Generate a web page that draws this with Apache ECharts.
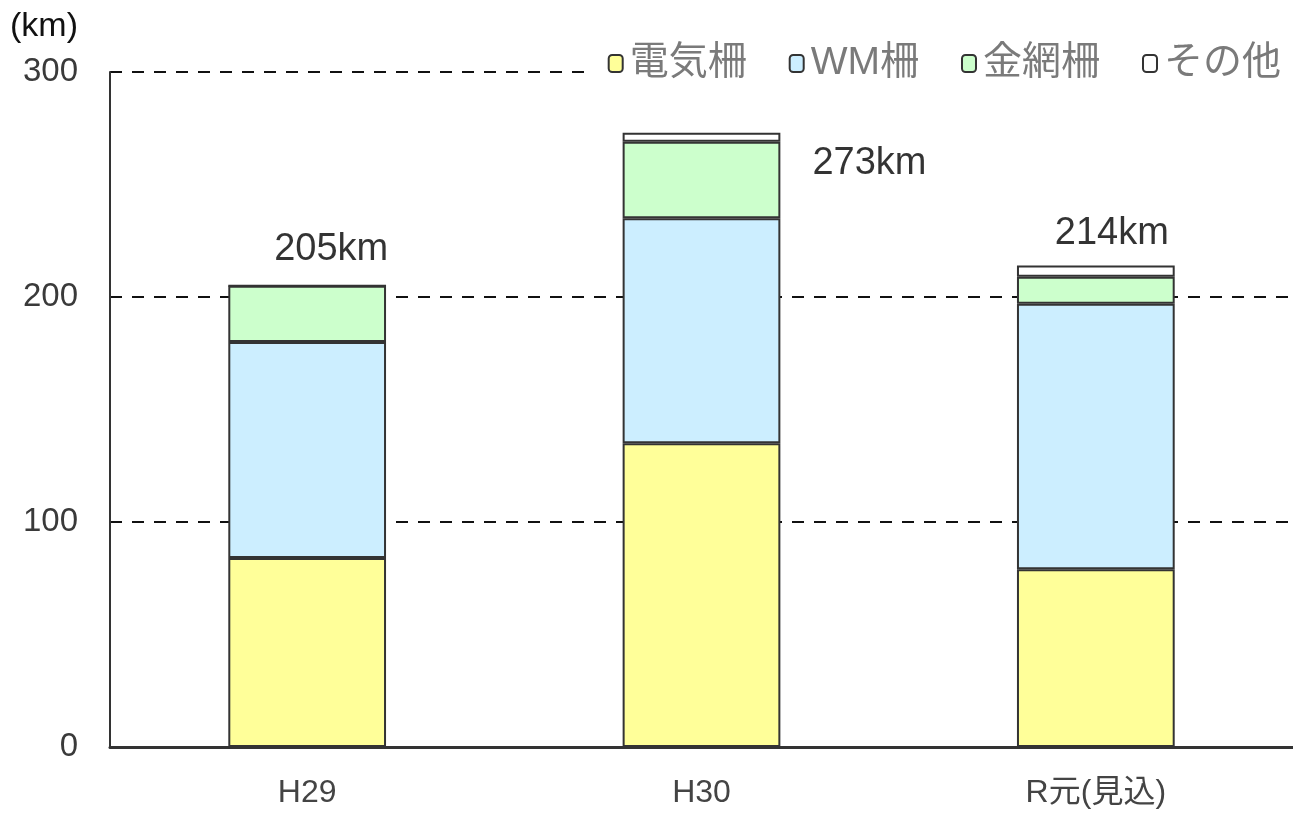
<!DOCTYPE html>
<html>
<head>
<meta charset="utf-8">
<script src="https://cdn.jsdelivr.net/npm/echarts@6/dist/echarts.min.js"></script>
<style>
  html, body { margin: 0; padding: 0; background: #fff; }
  #chart { width: 1293px; height: 819px; }
</style>
</head>
<body>
<div id="chart"></div>
<script>
// 年度
const categories = ['H29', 'H30', 'R元(見込)']
// 柵の種類ごとの延長 (km)
const denki = [84, 135, 79]
const wm = [96, 100, 118]
const kanaami = [25, 34, 12]
const sonota = [0, 4, 5]
// 合計ラベル
const totals = [205, 273, 214]
const yTicks = [0, 100, 200, 300]

const font = '"Liberation Sans", "Noto Sans CJK JP", sans-serif'
// 合計ラベルのずらし量
const labelOffsets = [[24, -16], [168, 51], [16, -12]]

const chart = echarts.init(document.getElementById('chart'))

function barSeries(name, data, color) {
  return {
    name: name,
    type: 'bar',
    stack: 'total',
    barWidth: '40%',
    data: data,
    itemStyle: { color: color, borderColor: '#333', borderWidth: 2 },
    emphasis: { disabled: true }
  }
}

chart.setOption({
  animation: false,
  grid: { left: 110, right: 0, top: 72, bottom: 72 },
  legend: {
    data: ['電気柵', 'WM柵', '金網柵', 'その他'],
    right: 0,
    top: 42,
    icon: 'roundRect',
    itemWidth: 14,
    itemHeight: 17,
    itemGap: 42,
    backgroundColor: '#fff',
    padding: [2, 12, 2, 14],
    itemStyle: { borderColor: '#333', borderWidth: 2 },
    textStyle: { fontSize: 39, color: '#7a7a7a', fontFamily: font, padding: [0, 0, 0, 2] }
  },
  xAxis: {
    type: 'category',
    data: categories,
    axisLine: { lineStyle: { color: '#333', width: 3 } },
    axisTick: { show: false },
    axisLabel: { fontSize: 32, color: '#444', fontFamily: font, margin: 30 }
  },
  yAxis: {
    type: 'value',
    min: yTicks[0],
    max: yTicks[yTicks.length - 1],
    interval: 100,
    name: '(km)',
    nameLocation: 'end',
    nameGap: 28,
    nameTextStyle: { fontSize: 34, color: '#111', fontFamily: font, align: 'left', padding: [0, 0, 0, -100] },
    axisLine: { show: true, lineStyle: { color: '#333', width: 2 } },
    axisTick: { show: false },
    axisLabel: { fontSize: 33, color: '#3a3a3a', fontFamily: font, margin: 32 },
    splitLine: { lineStyle: { color: '#111', width: 2, type: [12, 10] } }
  },
  series: [
    barSeries('電気柵', denki, '#ffff99'),
    barSeries('WM柵', wm, '#cceeff'),
    barSeries('金網柵', kanaami, '#ccffcc'),
    barSeries('その他', sonota, '#ffffff'),
    {
      name: '合計',
      type: 'scatter',
      data: totals.map((v, i) => ({
        value: v,
        label: { offset: labelOffsets[i] }
      })),
      symbolSize: 2,
      itemStyle: { color: 'rgba(0,0,0,0)' },
      z: 10,
      label: {
        show: true,
        position: 'top',
        distance: 0,
        formatter: '{c}km',
        fontSize: 38,
        color: '#000',
        textBorderWidth: 0,
        fontFamily: font
      }
    }
  ]
})
window.addEventListener('resize', () => chart.resize())
</script>
</body>
</html>
